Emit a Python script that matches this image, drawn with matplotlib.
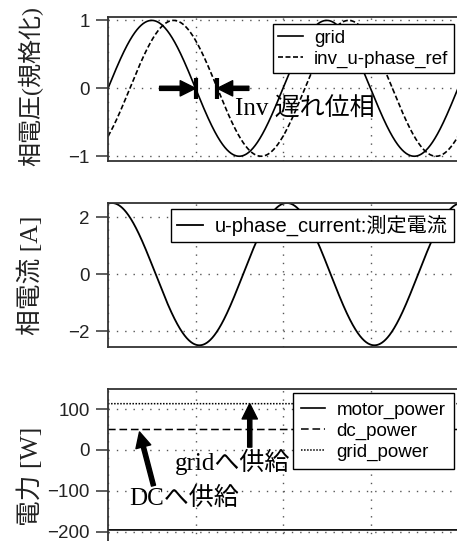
import numpy as np
import matplotlib
matplotlib.use("Agg")
import matplotlib.pyplot as plt

# ---------------- data ----------------
frequency_hz = 50.0
time_ms = np.linspace(0.0, 40.0, 1601)

voltage_names = ["grid", "inv_u-phase_ref"]
voltage_amplitude = [1.0, 1.0]
voltage_phase_deg = [0.0, -45.0]

current_name = "u-phase_current:測定電流"
current_amplitude = 2.5
current_phase_deg = 82.0

power_names = ["motor_power", "dc_power", "grid_power"]
power_values = [-195.0, 50.0, 113.0]

x_ticks = [0, 10, 20, 30, 40]
v_ticks = [-1, 0, 1]
i_ticks = [-2, 0, 2]
p_ticks = [-200, -100, 0, 100]

# ---------------- style ----------------
SANS = ["Liberation Sans", "Noto Sans CJK JP"]
SERIF = ["Liberation Serif", "Noto Sans CJK JP"]
TICK_FS = 13.5
LEG_FS = 13.5
ANN_FS = 18
GRID_KW = dict(color="#555555", linestyle=(0, (1, 5)), linewidth=1.0)
SPINE_C = "#333333"

W, H = 457, 541
fig = plt.figure(figsize=(W / 100, H / 100), dpi=100)


def ax_px(left, top, right, bottom):
    return fig.add_axes([left / W, 1 - bottom / H, (right - left) / W, (bottom - top) / H])


ax1 = ax_px(108, 17, 458, 161)
ax2 = ax_px(108, 203, 458, 347)
ax3 = ax_px(108, 389, 458, 575)

w = 2 * np.pi * frequency_hz / 1000.0

LEG_KW = dict(loc="upper right", bbox_transform=fig.transFigure, frameon=True, fancybox=False,
              framealpha=1, edgecolor="black", borderaxespad=0, handlelength=1.3,
              handletextpad=0.6)

# ---- top: voltages ----
v_styles = [dict(color="black", lw=1.2, ls="-"), dict(color="black", lw=1.2, ls=(0, (3, 1.5)))]
for name, amp, ph, st in zip(voltage_names, voltage_amplitude, voltage_phase_deg, v_styles):
    ax1.plot(time_ms, amp * np.sin(w * time_ms + np.deg2rad(ph)), label=name, **st)
ax1.set_ylim(-1.07, 1.05)
ax1.set_yticks(v_ticks)

# phase lag annotation
t_grid0 = 1000.0 / frequency_hz / 2
t_inv0 = t_grid0 - voltage_phase_deg[1] / 360.0 * 1000.0 / frequency_hz
arrow_kw = dict(facecolor="black", edgecolor="black", width=3, headwidth=11, headlength=11, shrink=0)
ax1.annotate("", xy=(t_grid0, 0), xytext=(t_grid0 - 4.1, 0), arrowprops=arrow_kw)
ax1.annotate("", xy=(t_inv0, 0), xytext=(t_inv0 + 3.6, 0), arrowprops=arrow_kw)
ax1.vlines([t_grid0, t_inv0], -0.15, 0.15, color="black", lw=3)
ax1.text(14.5, -0.31, "Inv 遅れ位相", family=SERIF, fontsize=ANN_FS, va="center", ha="left")
ax1.legend(bbox_to_anchor=(454 / W, 1 - 24 / H), prop=dict(family=SANS, size=LEG_FS),
           labelspacing=0.2, borderpad=0.3, **LEG_KW)

# ---- middle: current ----
ax2.plot(time_ms, current_amplitude * np.sin(w * time_ms + np.deg2rad(current_phase_deg)),
         color="black", lw=1.3, label=current_name)
ax2.set_ylim(-2.56, 2.5)
ax2.set_yticks(i_ticks)
ax2.legend(bbox_to_anchor=(454 / W, 1 - 209 / H), prop=dict(family=SANS, size=14.5),
           labelspacing=0.1, borderpad=0.3, **LEG_KW)

# ---- bottom: power ----
p_styles = [dict(ls="-", lw=1.2), dict(ls=(0, (5, 2.5)), lw=1.1), dict(ls=(0, (1, 1)), lw=1.1)]
for name, val, st in zip(power_names, power_values, p_styles):
    ax3.plot(time_ms, np.full_like(time_ms, val), color="black", label=name, **st)
ax3.set_ylim(-305, 148.8)
ax3.set_yticks(p_ticks)
ax3.annotate("", xy=(16.2, power_values[2]), xytext=(16.2, 7), arrowprops=arrow_kw)
ax3.text(7.6, -29, "gridへ供給", family=SERIF, fontsize=ANN_FS, va="center", ha="left")
ax3.annotate("", xy=(3.6, 44), xytext=(5.2, -87), arrowprops=arrow_kw)
ax3.text(2.4, -117, "DCへ供給", family=SERIF, fontsize=ANN_FS, va="center", ha="left")
ax3.legend(bbox_to_anchor=(454 / W, 1 - 393 / H), prop=dict(family=SANS, size=LEG_FS),
           labelspacing=0.2, borderpad=0.45, **LEG_KW)

labels = ["相電圧(規格化)", "相電流 [A]", "電力 [W]"]
label_fs = [17.3, 18.5, 18.5]
label_y = [0.52, 0.5, 1 - (476 - 389) / 186]
for ax, lab, fs, ly in zip([ax1, ax2, ax3], labels, label_fs, label_y):
    ax.set_xlim(0, 40)
    ax.set_xticks(x_ticks)
    ax.grid(True, **GRID_KW)
    for s in ax.spines.values():
        s.set_color(SPINE_C)
        s.set_linewidth(1.3)
    ax.tick_params(axis="y", direction="out", length=9, width=1.1, pad=4, labelsize=TICK_FS,
                   color=SPINE_C, labelcolor="#222222")
    for t in ax.get_yticklabels():
        t.set_family(SANS)
    ax.set_ylabel(lab, family=SERIF, fontsize=fs, color="#222222")
    ax.yaxis.set_label_coords(-0.185, ly)

for ax in [ax1, ax2]:
    ax.tick_params(axis="x", length=0, labelbottom=False)
ax3.tick_params(axis="x", direction="out", length=9, width=1.1, labelbottom=False, color=SPINE_C)

fig.savefig("out.png", dpi=100)
